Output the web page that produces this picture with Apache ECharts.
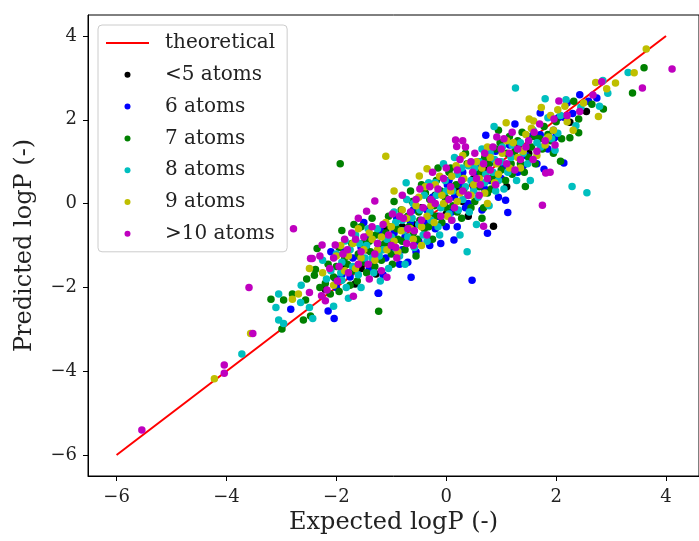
<!DOCTYPE html>
<html>
<head>
<meta charset="utf-8">
<script src="https://cdn.jsdelivr.net/npm/echarts@6/dist/echarts.min.js"></script>
<style>
	html, body { margin: 0; padding: 0; background: #fff; }
	#chart { width: 699px; height: 541px; }
</style>
</head>
<body>
<div id="chart"></div>
<script>
// 数据
var tickValues = [ -6, -4, -2, 0, 2, 4 ];
var theoretical = [ [ -6, -6 ], [ 4, 4 ] ];

var atoms5 = [ [2.25,1.94],[0.86,-0.54],[-1.28,-1.68],[-1.66,-1.92],[-0.6,-0.5],[0.2,0.3],[-1.0,-0.9],[0.5,0.6],
	[-0.3,-0.2],[1.0,0.95],[-1.9,-1.5],[0.4,-0.3],[-0.8,-0.55],[1.3,1.35],[0.0,-0.25],[-1.45,-1.1],[0.7,0.8],
	[-2.2,-2.05],[1.1,0.4],[-1.55,-1.55],[-0.45,-0.1],[0.3,0.05],[0.9,0.55],[-1.1,-0.6],[0.6,1.0],[-0.2,0.2],
	[1.5,1.2],[2.55,2.2],[-0.9,-1.2] ];

var atoms6 = [ [2.59,2.44],[2.43,2.60],[2.74,2.52],[1.71,2.16],[2.14,2.06],[2.04,2.05],[1.95,1.75],[1.96,1.56],
	[1.71,1.64],[0.72,1.63],[2.14,0.97],[1.78,0.82],[1.12,-0.21],[1.08,0.08],[0.75,-0.71],[0.14,-0.87],[0.47,-1.83],
	[-0.64,-1.76],[-1.23,-2.14],[-2.83,-2.52],[-2.15,-2.56],[-2.04,-2.74],[-2.02,-1.79],[-1.24,-2.14],
	[-1.9,-1.7],[-1.7,-1.3],[-1.55,-1.05],[-1.4,-1.55],[-1.25,-0.95],[-1.1,-1.3],[-0.95,-0.7],[-0.8,-1.1],
	[-0.65,-0.45],[-0.5,-0.9],[-0.35,-0.15],[-0.2,-0.6],[-0.05,0.2],[0.1,-0.2],[0.25,0.45],[0.4,0.0],[0.55,0.75],
	[0.7,0.35],[0.85,1.0],[1.0,0.6],[1.2,1.15],[1.4,0.9],[-1.5,-0.45],[-0.7,-1.4],[0.05,0.55],[-0.1,-0.95],
	[1.25,1.9],[-2.1,-1.15],
	[-2.0,-2.0],[-1.85,-1.15],[-1.75,-1.75],[-1.6,-1.25],[-1.45,-0.8],[-1.32,-1.35],[-1.2,-0.65],[-1.15,-1.7],
	[-1.02,-1.05],[-0.9,-0.35],[-0.85,-1.45],[-0.75,-0.8],[-0.6,-0.15],[-0.55,-1.15],[-0.4,-0.45],[-0.3,-1.0],
	[-0.25,0.15],[-0.15,-0.3],[0.0,-0.55],[0.02,0.45],[0.15,0.15],[0.2,-0.55],[0.3,0.75],[0.35,-0.1],[0.5,0.4],
	[0.6,0.95],[0.65,-0.15],[0.8,0.55],[0.9,1.25],[0.95,0.15],[1.05,0.9],[1.15,1.4],[1.3,0.75],[1.45,1.15],
	[1.55,1.6],[1.65,0.95],[1.85,1.3],[2.0,1.6],[2.3,2.15],[2.2,2.4] ];

var atoms7 = [ [-1.93,0.95],[-3.19,-2.28],[-2.96,-2.30],[-2.99,-2.99],[-2.80,-2.16],[-2.60,-2.78],[-2.47,-2.68],
	[-2.56,-2.30],[-2.54,-1.80],[-2.40,-1.71],[-2.11,-2.16],[-2.35,-1.07],[-1.90,-0.64],[-1.68,-0.50],[-2.38,-1.57],
	[-1.23,-2.57],[3.60,3.24],[3.39,2.64],[2.86,2.26],[2.65,2.37],[2.32,2.44],[2.41,2.02],[2.41,1.69],[2.25,1.57],
	[1.78,1.84],[2.08,1.01],[1.44,0.41],
	[-2.2,-1.9],[-2.0,-1.5],[-1.85,-1.3],[-1.7,-1.6],[-1.6,-1.2],[-1.5,-1.4],[-1.4,-0.9],[-1.3,-1.5],[-1.2,-1.0],
	[-1.1,-0.7],[-1.0,-1.2],[-0.9,-0.6],[-0.8,-0.9],[-0.7,-0.3],[-0.6,-0.7],[-0.5,-0.2],[-0.4,-0.6],[-0.3,0.1],
	[-0.2,-0.3],[-0.1,0.3],[0.0,-0.1],[0.1,0.4],[0.2,-0.2],[0.3,0.6],[0.4,0.2],[0.5,0.9],[0.6,0.4],[0.7,1.1],
	[0.8,0.6],[0.9,1.3],[1.0,0.8],[1.1,1.2],[1.2,0.7],[1.3,1.5],[1.5,1.1],[1.6,1.6],[1.9,1.5],[-0.95,0.05],
	[-1.55,-0.55],[0.35,1.2],[-0.15,0.85],[0.65,-0.35],[-0.55,-1.25],[0.95,1.75],[1.35,0.95],[-1.75,-1.95],
	[-2.3,-2.0],[-0.25,-0.85],[0.05,0.75],[0.45,-0.1],[-1.05,-0.3],[-0.65,0.3],[1.15,1.6],[1.75,1.3],[0.75,0.25],
	[-1.35,-0.35],[-1.95,-1.05],[-0.45,0.45],
	[-2.15,-1.45],[-2.05,-1.75],[-1.95,-2.1],[-1.8,-1.45],[-1.72,-0.95],[-1.62,-1.85],[-1.52,-0.95],[-1.45,-1.65],
	[-1.38,-1.15],[-1.28,-0.75],[-1.18,-1.35],[-1.12,-0.95],[-1.02,-0.55],[-0.98,-1.45],[-0.88,-0.85],[-0.82,-0.15],
	[-0.75,-1.1],[-0.68,-0.55],[-0.62,0.05],[-0.52,-0.85],[-0.48,-0.4],[-0.38,0.25],[-0.32,-0.55],[-0.22,-0.05],
	[-0.18,0.55],[-0.08,-0.45],[-0.02,0.15],[0.08,0.85],[0.12,-0.05],[0.18,0.45],[0.28,-0.35],[0.32,0.35],
	[0.38,0.95],[0.48,0.5],[0.52,0.05],[0.62,0.75],[0.68,-0.1],[0.78,0.95],[0.82,0.35],[0.92,0.65],[0.98,1.45],
	[1.08,0.55],[1.18,0.95],[1.25,1.25],[1.38,1.7],[1.42,0.75],[1.55,1.35],[1.62,0.95],[1.7,1.55],[1.85,1.65],
	[2.0,1.95],[2.1,1.55],[1.95,1.2] ];

var atoms8 = [ [1.26,2.76],[2.18,2.48],[2.36,1.86],[2.03,1.68],[1.98,1.27],[0.87,1.84],[-0.73,0.50],[2.29,0.41],
	[2.56,0.26],[1.53,0.55],[0.38,-1.15],[-1.78,-2.26],[-3.72,-3.59],[-3.05,-2.16],[-3.10,-2.48],[-3.05,-2.78],
	[-2.96,-2.86],[-2.65,-2.36],[-2.49,-2.48],[-2.43,-2.74],[-2.64,-1.95],[-2.05,-2.45],[-1.90,-1.83],[-1.84,-0.89],
	[3.31,3.13],[2.85,2.94],[2.94,2.63],[2.79,2.32],
	[-2.1,-1.6],[-1.9,-1.4],[-1.75,-1.1],[-1.6,-1.7],[-1.45,-1.0],[-1.35,-1.3],[-1.25,-0.6],[-1.15,-1.1],[-1.0,-0.8],
	[-0.9,-1.1],[-0.8,-0.4],[-0.7,-0.8],[-0.6,0.0],[-0.5,-0.5],[-0.4,0.2],[-0.3,-0.2],[-0.2,0.5],[-0.1,-0.1],
	[0.0,0.3],[0.1,-0.4],[0.2,0.7],[0.3,0.1],[0.4,0.9],[0.5,0.3],[0.6,1.0],[0.7,0.5],[0.8,1.2],[0.9,0.3],[1.0,1.0],
	[1.2,1.4],[1.4,1.2],[-1.65,-0.75],[-0.95,-0.2],[-0.35,-0.9],[0.15,1.1],[0.55,-0.5],[1.05,0.35],[-1.2,-1.85],
	[-2.25,-1.35],[0.25,-0.75],[-0.05,0.95],[-0.75,-1.45],[1.65,1.45],[1.85,2.05],[-1.55,-2.0],[-0.15,-0.55],
	[0.45,0.55],[0.85,0.75],
	[-2.18,-1.8],[-2.0,-1.2],[-1.92,-1.65],[-1.82,-2.0],[-1.7,-1.5],[-1.58,-0.95],[-1.48,-1.3],[-1.42,-0.6],
	[-1.32,-1.65],[-1.22,-1.25],[-1.08,-0.85],[-1.05,-1.55],[-0.92,-0.45],[-0.85,-1.25],[-0.78,-0.65],[-0.72,0.1],
	[-0.62,-0.35],[-0.58,-1.05],[-0.48,-0.15],[-0.42,-0.75],[-0.32,0.5],[-0.28,-0.4],[-0.18,0.2],[-0.12,-0.75],
	[-0.02,0.55],[0.05,-0.25],[0.12,0.3],[0.22,-0.15],[0.28,0.85],[0.35,0.4],[0.42,-0.2],[0.52,0.85],[0.58,0.15],
	[0.65,1.3],[0.72,0.7],[0.78,-0.05],[0.88,1.05],[0.95,0.55],[1.02,1.35],[1.12,0.75],[1.18,1.1],[1.28,0.55],
	[1.35,1.45],[1.48,0.95],[1.58,1.75],[1.72,1.35],[1.92,1.55],[2.08,2.1],[2.45,2.3],[1.8,2.5] ];

var atoms9 = [ [3.64,3.69],[3.42,3.12],[3.08,2.88],[2.92,2.74],[2.72,2.89],[2.77,2.08],[2.16,2.32],[2.03,2.24],
	[1.73,2.29],[1.51,2.02],[1.59,1.97],[1.86,1.59],[2.31,1.75],[1.09,1.93],[-1.10,1.13],[-0.49,0.66],[-0.35,0.83],
	[-4.22,-4.18],[-3.56,-3.10],[-2.80,-2.28],[-2.69,-2.16],[-2.49,-1.55],
	[-2.0,-1.25],[-1.85,-1.6],[-1.7,-0.95],[-1.55,-1.3],[-1.4,-0.7],[-1.25,-1.1],[-1.1,-0.45],[-0.95,-0.9],
	[-0.8,-0.15],[-0.65,-0.6],[-0.5,0.15],[-0.35,-0.3],[-0.2,0.45],[-0.05,0.0],[0.1,0.65],[0.25,0.25],[0.4,0.95],
	[0.5,0.45],[0.65,0.85],[0.8,1.1],[0.95,0.7],[1.1,1.5],[1.3,1.1],[1.45,1.65],[-0.95,0.3],[-1.6,-0.6],
	[0.3,1.15],[0.75,0.0],[-0.45,-1.0],
	[-2.25,-1.65],[-2.05,-1.95],[-1.92,-1.0],[-1.78,-1.25],[-1.65,-1.55],[-1.5,-1.1],[-1.35,-0.85],[-1.3,-1.35],
	[-1.18,-0.8],[-1.08,-1.1],[-1.0,-0.55],[-0.88,-1.15],[-0.82,-0.65],[-0.72,-0.35],[-0.6,-0.85],[-0.55,-0.05],
	[-0.45,-0.55],[-0.38,0.4],[-0.28,-0.05],[-0.22,-0.45],[-0.12,0.65],[-0.08,0.2],[0.02,-0.3],[0.08,0.3],
	[0.18,0.9],[0.2,0.05],[0.32,0.6],[0.45,0.2],[0.55,1.0],[0.6,0.6],[0.7,0.25],[0.75,1.35],[0.88,0.5],[0.92,0.95],
	[1.02,1.2],[1.15,0.85],[1.22,1.45],[1.35,0.85],[1.4,1.25],[1.55,1.8],[1.65,1.15],[1.8,1.4],[1.95,1.75],
	[2.2,1.95],[2.5,2.4],[1.9,2.1] ];

var atoms10 = [ [4.11,3.21],[3.57,2.76],[2.83,2.91],[2.67,2.59],[2.43,2.20],[1.96,2.02],[1.98,1.40],[0.17,1.52],
	[0.19,1.36],[0.92,1.59],[1.75,-0.04],[1.89,0.75],[1.81,0.73],[0.68,-0.54],[-1.08,-1.76],[-1.69,-2.21],
	[-3.59,-2.0],[-5.54,-5.40],[-4.04,-3.85],[-4.04,-4.05],[-3.52,-3.10],[-2.49,-2.12],[-2.27,-2.20],[-2.20,-2.32],
	[-2.17,-2.06],[-2.78,-0.60],[-2.26,-0.99],[-2.44,-1.31],[-2.02,-0.99],[-1.30,0.06],[-1.45,-0.18],[-1.72,-0.70],
	[-2.47,-1.31],
	[-1.95,-1.5],[-1.8,-1.1],[-1.6,-1.45],[-1.5,-0.8],[-1.3,-1.2],[-1.15,-0.5],[-1.0,-1.0],[-0.85,-0.3],[-0.7,-0.6],
	[-0.55,0.1],[-0.45,-0.4],[-0.3,0.4],[-0.2,0.0],[-0.05,0.6],[0.05,0.1],[0.2,0.8],[0.3,0.3],[0.45,1.0],[0.55,0.6],
	[0.7,1.2],[0.8,0.8],[1.0,1.3],[1.1,0.95],[1.3,1.3],[1.5,1.5],[1.65,1.25],[1.7,1.9],[-0.6,-1.0],[-1.4,-1.8],
	[0.1,-0.4],[0.6,0.2],[-0.9,-1.3],[-0.25,0.75],[0.35,1.35],[-1.85,-0.85],[-2.05,-1.3],[0.9,0.45],[1.2,1.7],
	[-2.12,-1.55],[-1.98,-1.85],[-1.88,-1.2],[-1.78,-1.65],[-1.65,-0.85],[-1.55,-1.15],[-1.42,-1.45],[-1.35,-0.55],
	[-1.25,-0.95],[-1.18,-1.6],[-1.05,-0.75],[-0.98,-0.25],[-0.92,-1.05],[-0.78,-0.35],[-0.72,-0.95],[-0.65,-0.2],
	[-0.58,-0.65],[-0.48,0.35],[-0.42,-0.1],[-0.35,-0.75],[-0.28,0.1],[-0.15,0.35],[-0.1,-0.3],[0.0,0.85],
	[0.08,0.4],[0.15,-0.1],[0.25,1.05],[0.28,0.55],[0.4,0.2],[0.48,0.75],[0.52,1.2],[0.62,0.45],[0.68,0.95],
	[0.75,0.6],[0.85,1.35],[0.95,1.0],[1.05,1.55],[1.15,1.2],[1.25,0.8],[1.35,1.05],[1.45,1.35],[1.58,1.05],
	[1.6,1.7],[1.8,1.5],[2.2,2.1],[2.05,2.45],[-1.6,-0.35],[-0.8,0.2],[0.3,1.5],[-2.3,-1.25] ];

var seriesNames = [ '<5 atoms', '6 atoms', '7 atoms', '8 atoms', '9 atoms', '>10 atoms' ];
var seriesColors = [ '#000000', '#0000ff', '#008000', '#00bfbf', '#bfbf00', '#bf00bf' ];
var seriesData = [ atoms5, atoms6, atoms7, atoms8, atoms9, atoms10 ];

var myChart = echarts.init(document.getElementById('chart'));
var font = "'DejaVu Serif', serif";

var series = [ {
	name : 'theoretical',
	type : 'line',
	data : theoretical,
	symbol : 'none',
	lineStyle : { color : '#ff0000', width : 2 },
	itemStyle : { color : '#ff0000' },
	z : 1
} ];
for (var i = 0; i < seriesNames.length; i++) {
	series.push({
		name : seriesNames[i],
		type : 'scatter',
		data : seriesData[i],
		symbol : 'circle',
		symbolSize : 7.5,
		itemStyle : { color : seriesColors[i], opacity : 1 },
		z : 2 + i
	});
}

var legendData = [ { name : 'theoretical', icon : 'path://M0,0H40V2H0Z' } ];
for (var j = 0; j < seriesNames.length; j++) {
	legendData.push({ name : seriesNames[j], icon : 'circle' });
}

// 刻度上用真正的减号
function minusLabel(v) {
	return String(v).replace('-', '\u2212');
}

// 两个坐标轴共用的样式
function makeAxis(name, nameGap, min, max, margin) {
	return {
		type : 'value',
		name : name,
		nameGap : nameGap,
		nameLocation : 'middle',
		nameTextStyle : { fontFamily : font, fontSize : 24, color : '#222' },
		min : min,
		max : max,
		axisLine : { show : true, onZero : false, lineStyle : { color : '#000', width : 1 } },
		axisTick : { show : true, customValues : tickValues, length : 5, lineStyle : { color : '#000' } },
		axisLabel : { customValues : tickValues, formatter : minusLabel, fontFamily : font, fontSize : 18, color : '#222', margin : margin },
		splitLine : { show : false }
	};
}

var option = {
	animation : false,
	backgroundColor : '#fff',
	grid : {
		left : 88, top : 15, width : 619, height : 461,
		show : true, borderColor : '#000', borderWidth : 1
	},
	legend : {
		data : legendData,
		orient : 'vertical',
		left : 98, top : 25,
		padding : [ 8, 12, 8, 8 ],
		itemWidth : 43, itemHeight : 6,
		itemGap : 11.8,
		borderColor : '#cccccc', borderWidth : 1, borderRadius : 4,
		backgroundColor : 'rgba(255,255,255,0.8)',
		textStyle : { fontFamily : font, fontSize : 20, color : '#222', padding : [ 0, 0, 0, 11 ], lineHeight : 20 }
	},
	xAxis : makeAxis('Expected logP (-)', 35, -6.52, 4.6, 12),
	yAxis : makeAxis('Predicted logP (-)', 51, -6.5, 4.5, 11),
	series : series
};

myChart.setOption(option);
</script>
</body>
</html>
